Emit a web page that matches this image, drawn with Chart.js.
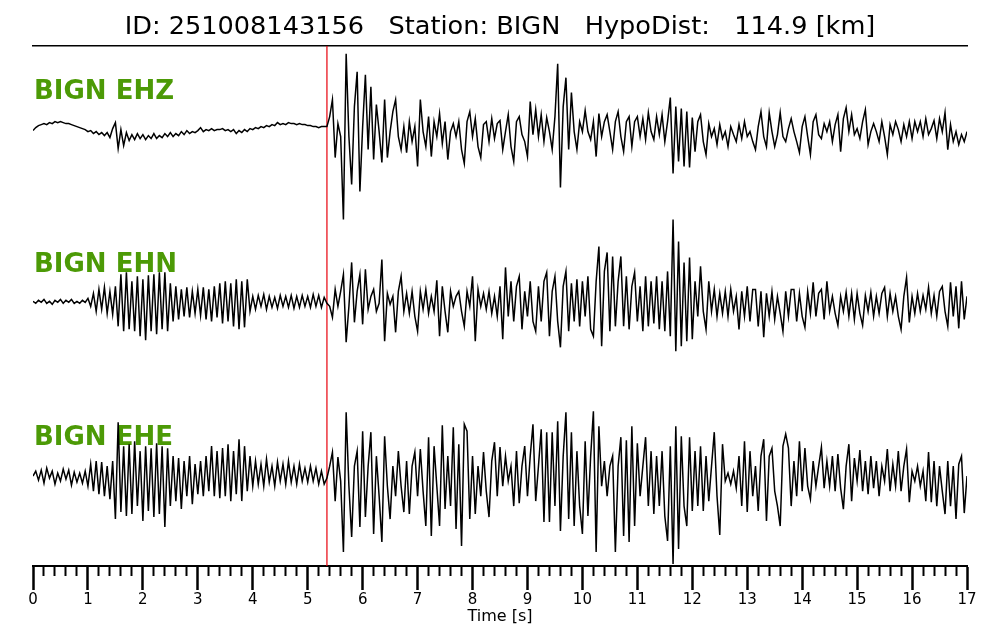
<!DOCTYPE html>
<html>
<head>
<meta charset="utf-8">
<title>BIGN seismogram</title>
<script src="https://cdn.jsdelivr.net/npm/chart.js@4.4.1/dist/chart.umd.min.js"></script>
<style>
  html, body { margin: 0; background: #fff; }
</style>
</head>
<body>
<canvas id="seis" width="1000" height="640"></canvas>
<script>
// sample step of the traces [s], P pick [s]
const dt = 0.05;
const pickTime = 5.35;
const channels = ['BIGN EHZ', 'BIGN EHN', 'BIGN EHE'];

// amplitudes (one row = one second, 20 samples)
const ehz = [
  -4,-1,1,2,3,2,4,3,5,4,5,4,3,3,2,1,0,-1,-2,-3,
  -5,-4,-7,-5,-8,-6,-9,-6,-11,-2,4,-22,-3,-19,-6,-14,-8,-13,-7,-12,
  -8,-13,-9,-12,-7,-12,-9,-11,-7,-10,-6,-10,-7,-9,-5,-8,-4,-7,-5,-6,
  -4,-1,-5,-3,-4,-2,-4,-3,-3,-2,-4,-3,-5,-3,-7,-4,-6,-3,-5,-2,
  -3,-1,-2,0,-1,1,0,2,1,4,2,3,2,4,3,3,2,3,2,2,
  1,1,0,0,-1,0,0,0,10,27,-31,3,-10,-93,73,-10,-58,20,55,-65,
  0,52,-23,40,-33,22,-5,-36,27,-31,-5,15,27,-10,-23,0,-26,5,-15,0,
  -40,27,-5,-20,10,-30,5,-10,13,-17,5,-33,-5,3,-10,5,-23,-37,5,15,
  -10,8,-20,-31,2,5,-15,8,-12,3,6,-23,-5,12,-20,-35,5,10,-8,-15,
  -30,25,-8,17,-10,12,-15,9,-5,-23,10,63,-61,20,49,-23,34,-5,-23,5,
  -5,16,-5,-13,5,-30,13,-10,5,12,-5,-23,5,15,-10,-25,5,10,-20,5,
  10,-10,8,-13,14,-5,-13,10,-8,12,-15,5,29,-47,20,-35,18,-40,15,-41,
  9,-25,5,12,-15,-28,3,-10,-2,-18,2,-12,-5,-20,0,-8,-15,2,-12,5,
  -10,-5,-15,-23,0,15,-10,-20,14,-5,-20,-8,14,-10,-15,-2,8,-5,-15,-26,
  0,10,-10,-28,5,12,-8,-12,3,-5,5,-15,2,12,-25,8,19,-5,12,-8,
  -2,-12,5,17,-18,-5,3,-5,-15,5,-10,-28,2,-8,5,-3,-15,2,-10,5,
  -12,5,-5,5,-10,8,-8,-2,6,-12,8,-5,14,-23,2,-15,-5,-18,-8,-15,-5
];

const ehn = [
  0,-2,1,-1,2,-2,0,-3,1,-1,2,-2,1,-1,2,-2,0,-2,1,-1,
  3,-5,8,-10,12,-8,14,-12,10,-13,15,-25,27,-30,29,-28,20,-30,25,-35,
  22,-39,26,-30,27,-33,29,-28,29,-30,18,-20,15,-18,12,-15,14,-16,10,-12,
  12,-14,14,-18,12,-20,15,-16,18,-22,20,-20,18,-25,22,-28,20,-26,22,-10,
  5,-8,6,-5,7,-8,5,-6,4,-7,6,-5,5,-6,6,-7,5,-6,6,-5,
  5,-6,7,-5,6,-6,4,-2,-5,-16,12,-5,10,27,-41,-5,39,-21,10,27,
  -23,32,-8,5,12,-10,-2,42,-40,8,-3,5,-31,10,25,-10,8,-12,10,-15,
  -30,10,-8,12,-12,5,-10,21,-35,15,-10,-31,10,-5,5,10,-10,-25,10,-5,
  25,-40,12,-5,8,-8,10,-12,5,-15,15,-38,34,-15,20,-20,15,25,-28,10,
  -15,20,-20,-30,15,-20,20,29,-35,10,25,-20,-46,15,30,-30,18,-20,22,-25,
  20,-15,25,-28,-35,20,55,-45,30,49,-30,45,-25,20,45,-25,25,-28,15,29,
  -20,15,-30,25,-25,20,-22,25,-28,20,-30,30,-35,82,-50,60,-45,39,-40,44,
  -38,20,-15,35,-10,-28,20,-10,12,-15,8,-12,10,-15,12,-10,5,-28,10,-15,
  15,-20,12,12,-25,10,-36,8,-15,10,-18,5,-12,-30,10,-15,12,12,-20,8,
  -15,-26,10,-12,19,-15,8,12,-18,20,-10,5,-12,-24,5,-10,9,-15,8,-18,
  8,-12,-24,6,-10,9,-15,5,-12,8,14,-15,8,-10,5,-15,-28,5,24,-21,
  5,-12,8,-10,6,-8,14,-12,6,-15,10,15,-10,-25,19,-15,15,-27,20,-18,5
];

const ehe = [
  0,5,-4,6,-7,8,-2,5,-8,3,-5,7,-3,6,-9,4,-6,3,-7,5,
  -10,12,-15,15,-18,14,-20,10,-23,15,-43,54,-36,30,-40,32,-38,35,-30,25,
  -45,30,-35,28,-41,33,-38,30,-51,28,-30,20,-25,18,-33,15,-20,20,-28,12,
  -18,15,-20,20,-15,30,-20,25,-22,28,-20,32,-25,25,-18,37,-25,30,-15,20,
  -10,15,-8,12,-10,17,-6,10,-10,14,-5,12,-8,15,-6,10,-8,12,-5,8,
  -6,10,-5,8,-8,5,-8,-2,10,24,-25,19,-5,-76,64,-10,-61,10,25,-51,
  45,-41,10,44,-58,20,-20,-66,40,-10,-43,10,-20,25,-10,-36,15,-38,10,24,
  -20,27,-15,-50,39,-60,30,-10,-50,51,-33,20,-30,49,-53,32,-70,52,45,-43,
  20,-38,10,-20,24,-15,-41,15,34,-20,29,-10,20,-5,10,-30,25,-27,10,30,
  -20,20,52,-25,10,47,-46,44,-46,44,-30,55,-55,20,64,-43,44,-50,25,-30,
  -58,35,-40,20,65,-76,50,-10,15,-20,10,20,-76,10,39,-60,36,-66,50,-50,
  33,-20,10,39,-30,25,-38,20,-30,25,-40,-65,30,-88,50,-73,40,-30,-50,39,
  -35,25,-30,30,-35,20,-25,10,44,-20,-59,32,-5,3,-8,5,-12,20,-30,35,
  -36,25,-20,10,-35,20,37,-45,20,28,-15,-30,-50,30,42,28,-30,15,-20,35,
  -15,28,-10,-23,15,-10,10,29,-12,15,-10,20,-15,22,-12,-33,10,32,-25,18,
  -5,26,-15,15,-18,20,-12,15,-20,10,-5,27,-15,12,-10,25,-15,10,27,-26,
  5,-5,10,-10,5,-25,24,-26,15,-30,10,-15,-38,15,-30,10,-43,12,20,-37,0
];

const traces = [ehz, ehn, ehe];
const offsets = [440, 265, 90];   // trace baselines in plot units (1 unit = 1 px)
const labelLift = [34, 36, 38];
const yTop = 521;

function toPoints(vals, off) {
  return vals.map((v, i) => ({ x: Math.round(i * dt * 100) / 100, y: off + v }));
}

const isMajor = v => Math.abs(v - Math.round(v)) < 1e-6;
const majorCtx = c => !c.tick || isMajor(c.tick.value);

// green station / channel names, drawn under the traces
const chanLabels = {
  id: 'chanLabels',
  beforeDatasetsDraw(chart) {
    const { ctx, scales: { x, y } } = chart;
    ctx.save();
    ctx.font = 'bold 26px "DejaVu Sans"';
    ctx.fillStyle = '#4c9a06';
    ctx.textBaseline = 'middle';
    channels.forEach((name, k) => {
      ctx.fillText(name, x.getPixelForValue(0) + 1, y.getPixelForValue(offsets[k] + labelLift[k]));
    });
    ctx.restore();
  }
};

const datasets = traces.map((vals, k) => ({
  label: channels[k],
  data: toPoints(vals, offsets[k]),
  borderColor: '#000',
  borderWidth: 1.5,
  pointRadius: 0,
  tension: 0
}));
datasets.push({
  label: 'P',
  data: [{ x: pickTime, y: 0 }, { x: pickTime, y: yTop }],
  borderColor: '#e8000b',
  borderWidth: 1.2,
  pointRadius: 0
});

new Chart(document.getElementById('seis'), {
  type: 'line',
  data: { datasets: datasets },
  options: {
    responsive: false,
    animation: false,
    devicePixelRatio: 1,
    layout: { padding: { left: 33, right: 33, top: 0, bottom: 15 } },
    plugins: {
      legend: { display: false },
      tooltip: { enabled: false },
      title: {
        display: true,
        text: 'ID: 251008143156   Station: BIGN   HypoDist:   114.9 [km]',
        color: '#000',
        font: { family: 'DejaVu Sans', size: 25.6, weight: 'normal', lineHeight: 1.2 },
        padding: { top: 12, bottom: 3 }
      }
    },
    scales: {
      x: {
        type: 'linear',
        position: 'bottom',
        min: 0,
        max: 17,
        ticks: {
          stepSize: 0.2,
          autoSkip: false,
          maxRotation: 0,
          maxTicksLimit: 200,
          padding: 3,
          color: '#000',
          font: { family: 'DejaVu Sans', size: 15, lineHeight: 1 },
          callback: v => isMajor(v) ? String(Math.round(v)) : ''
        },
        grid: {
          drawOnChartArea: false,
          tickLength: 24,
          tickColor: '#000',
          tickWidth: c => majorCtx(c) ? 2.5 : 2,
          tickBorderDash: c => majorCtx(c) ? [] : [9, 40]
        },
        border: { color: '#000', width: 2 },
        title: {
          display: true,
          text: 'Time [s]',
          color: '#000',
          font: { family: 'DejaVu Sans', size: 16, lineHeight: 1 },
          padding: { top: -2, bottom: 0 }
        }
      },
      top: {
        type: 'linear',
        position: 'top',
        min: 0,
        max: 17,
        ticks: { display: false },
        grid: { display: false, drawTicks: false },
        border: { display: true, color: '#000', width: 1.5 }
      },
      y: { display: false, min: 0, max: yTop }
    }
  },
  plugins: [chanLabels]
});
</script>
</body>
</html>
